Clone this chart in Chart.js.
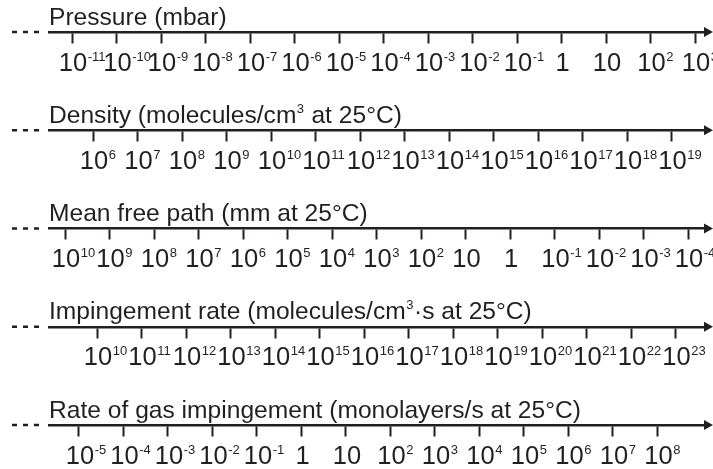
<!DOCTYPE html>
<html>
<head>
<meta charset="utf-8">
<script src="https://cdn.jsdelivr.net/npm/chart.js@4"></script>
<style>
  html, body { margin: 0; padding: 0; background: #fff; }
</style>
</head>
<body>
<canvas id="myChart" width="713" height="469"></canvas>
<script>
'use strict'
// titles of the five scales, top to bottom
const rowTitles = [
    'Pressure (mbar)',
    'Density (molecules/cm³ at 25°C)',
    'Mean free path (mm at 25°C)',
    'Impingement rate (molecules/cm³·s at 25°C)',
    'Rate of gas impingement (monolayers/s at 25°C)'
];

// tick labels as powers of ten, left to right
const pressureExp = [-11, -10, -9, -8, -7, -6, -5, -4, -3, -2, -1, 0, 1, 2, 3];
const densityExp = [6, 7, 8, 9, 10, 11, 12, 13, 14, 15, 16, 17, 18, 19];
const freePathExp = [10, 9, 8, 7, 6, 5, 4, 3, 2, 1, 0, -1, -2, -3, -4];
const impingementExp = [10, 11, 12, 13, 14, 15, 16, 17, 18, 19, 20, 21, 22, 23];
const monolayerExp = [-5, -4, -3, -2, -1, 0, 1, 2, 3, 4, 5, 6, 7, 8];

const ink = '#231f20';
const fontFamily = '"Liberation Sans", Arial, Helvetica, sans-serif';
const baseFont = '25.5px ' + fontFamily;
const supFont = '13px ' + fontFamily;
const titleFont = '24.6px ' + fontFamily;

// 10^e split in base and exponent text
function powerParts(e) {
    if (e === 0) return ['1', ''];
    if (e === 1) return ['10', ''];
    return ['10', String(e)];
}

function makeAxis(row, exps, min, max, reverse) {
    return {
        type: 'linear',
        axis: 'x',
        position: { y: row },
        bounds: 'data',
        min: min,
        max: max,
        reverse: reverse,
        afterBuildTicks: axis => { axis.ticks = exps.map(v => ({ value: v })); },
        afterFit: axis => { axis.paddingLeft = 0; axis.paddingRight = 0; },
        border: { display: true, width: 2.5, color: ink },
        grid: { drawOnChartArea: false, drawTicks: true, tickLength: 10, tickWidth: 2, tickColor: ink },
        ticks: { display: false, autoSkip: false, callback: v => powerParts(v).join('') }
    };
}

const axisIds = ['pressure', 'density', 'freePath', 'impingement', 'monolayer'];

// title text with ³ drawn as a small raised 3
function drawTitle(ctx, text, x, y) {
    const pieces = text.split('³');
    pieces.forEach((piece, k) => {
        ctx.font = titleFont;
        ctx.fillText(piece, x, y);
        x += ctx.measureText(piece).width;
        if (k < pieces.length - 1) {
            ctx.font = supFont;
            ctx.fillText('3', x + 0.5, y - 10);
            x += ctx.measureText('3').width + 1;
        }
    });
}

const numberLines = {
    id: 'numberLines',
    afterDraw(chart) {
        const ctx = chart.ctx;
        const area = chart.chartArea;
        axisIds.forEach((id, i) => {
            const scale = chart.scales[id];
            const yPix = chart.scales.y.getPixelForValue(i);
            ctx.save();
            ctx.strokeStyle = ink;
            ctx.fillStyle = ink;
            ctx.lineWidth = 2.5;
            // dashed lead-in
            ctx.setLineDash([5, 6]);
            ctx.beginPath();
            ctx.moveTo(12, yPix);
            ctx.lineTo(area.left - 6, yPix);
            ctx.stroke();
            ctx.setLineDash([]);
            // arrow head
            ctx.beginPath();
            ctx.moveTo(area.right - 2, yPix - 5);
            ctx.lineTo(chart.width, yPix);
            ctx.lineTo(area.right - 2, yPix + 5);
            ctx.closePath();
            ctx.fill();
            // title
            ctx.textAlign = 'left';
            ctx.textBaseline = 'alphabetic';
            drawTitle(ctx, rowTitles[i], area.left, yPix - 7.5);
            // tick labels: base centred on the tick, exponent raised to its right
            scale.ticks.forEach(t => {
                const [base, exp] = powerParts(t.value);
                const px = scale.getPixelForValue(t.value);
                ctx.font = baseFont;
                const w = ctx.measureText(base).width;
                const x0 = px - w / 2 + 1;
                ctx.fillText(base, x0, yPix + 38.5);
                if (exp) {
                    ctx.font = supFont;
                    ctx.fillText(exp, x0 + w + 0.5, yPix + 28.5);
                }
            });
            ctx.restore();
        });
    }
};

let ctx = document.getElementById('myChart');
let myChart = new Chart(ctx, {
    type: 'scatter',
    data: { datasets: [] },
    options: {
        responsive: false,
        animation: false,
        events: [],
        layout: { padding: { left: 49, right: 7, top: 32, bottom: 44 } },
        plugins: { legend: { display: false }, tooltip: { enabled: false } },
        scales: {
            y: { display: false, min: 0, max: 4, reverse: true },
            pressure: makeAxis(0, pressureExp, -11.517, 3.247, false),
            density: makeAxis(1, densityExp, 5.011, 19.775, false),
            freePath: makeAxis(2, freePathExp, -4.404, 10.36, true),
            impingement: makeAxis(3, impingementExp, 8.921, 23.685, false),
            monolayer: makeAxis(4, monolayerExp, -5.674, 9.09, false)
        }
    },
    plugins: [numberLines]
});
</script>
</body>
</html>
